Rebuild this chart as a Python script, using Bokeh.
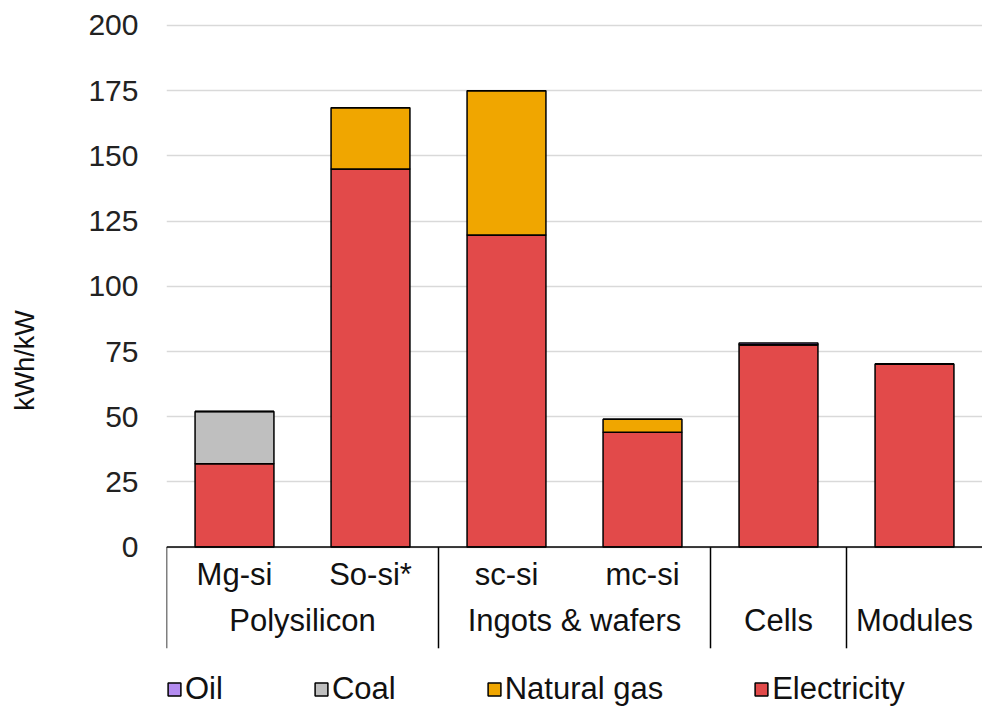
from bokeh.plotting import figure
from bokeh.models import (Range1d, FixedTicker, Legend, LegendItem, LinearAxis,
                          ColumnDataSource)
from bokeh.core.properties import value
from bokeh.embed import file_html
from bokeh.resources import INLINE

# ---- data ----
subcategories = ["Mg-si", "So-si*", "sc-si", "mc-si", "", ""]
groups = ["Polysilicon", "Polysilicon", "Ingots & wafers", "Ingots & wafers",
          "Cells", "Modules"]
electricity = [32, 145, 119.7, 44, 77.6, 70.2]
coal = [20, 0, 0, 0, 0, 0]
natural_gas = [0, 23.5, 55.3, 5, 0, 0]
oil = [0, 0, 0, 0, 0.7, 0]
y_ticks = [0, 25, 50, 75, 100, 125, 150, 175, 200]
y_title = "kWh/kW"

FONT = "Liberation Sans"
series = ["electricity", "coal", "natural_gas", "oil"]
colors = ["#E24A4A", "#BFBFBF", "#F0A600", "#B48CF0"]
labels = {"electricity": "Electricity", "coal": "Coal",
          "natural_gas": "Natural gas", "oil": "Oil"}

n = len(subcategories)
xs = list(range(n))
src = ColumnDataSource(dict(x=xs, electricity=electricity, coal=coal,
                            natural_gas=natural_gas, oil=oil))

p = figure(width=982, height=707, output_backend="svg", toolbar_location=None,
           x_range=Range1d(-0.5, n - 0.5), y_range=Range1d(-61.5, 204.6),
           x_axis_type=None, min_border_left=166, min_border_right=0,
           min_border_top=13, min_border_bottom=0)
p.outline_line_color = None
p.background_fill_color = "white"
p.border_fill_color = "white"

# y axis (tick labels)
yax = p.yaxis[0]
yax.ticker = FixedTicker(ticks=y_ticks)
yax.axis_line_color = None
yax.major_tick_line_color = None
yax.minor_tick_line_color = None
yax.major_tick_out = 0
yax.major_label_standoff = 28
yax.major_label_text_font = FONT
yax.major_label_text_font_size = "30px"
yax.major_label_text_color = "#222222"
p.xgrid.visible = False
p.ygrid.grid_line_color = "#D9D9D9"
p.ygrid.grid_line_width = 1.5

# y-axis title
title_ax = LinearAxis(ticker=FixedTicker(ticks=[]),
                      axis_label=y_title, axis_line_color=None,
                      major_tick_line_color=None, minor_tick_line_color=None,
                      axis_label_standoff=46, axis_label_text_font=FONT,
                      axis_label_text_font_size="27px",
                      axis_label_text_font_style="normal",
                      axis_label_text_color="#111111")
p.add_layout(title_ax, "left")

# stacked bars
rends = p.vbar_stack(series, x="x", width=0.58, source=src, color=colors,
                     line_color="black", line_width=1.5)
rmap = dict(zip(series, rends))

# category axis table
p.segment(x0=[-0.5], y0=[0], x1=[n - 0.5], y1=[0], line_color="black",
          line_width=1.5)
bounds = [-0.5] + [i - 0.5 for i in range(1, n) if groups[i] != groups[i - 1]]
p.segment(x0=bounds, y0=[0] * len(bounds), x1=bounds, y1=[-38.8] * len(bounds),
          line_color="black", line_width=1.5)

sub_x = [x for x, s in zip(xs, subcategories) if s]
sub_t = [s for s in subcategories if s]
p.text(x=sub_x, y=[-10.5] * len(sub_x), text=sub_t, text_font=value(FONT),
       text_font_size="31px", text_align="center", text_baseline="middle",
       text_color="#111111")

gnames, gx = [], []
for g in dict.fromkeys(groups):
    idx = [i for i, gg in enumerate(groups) if gg == g]
    gnames.append(g)
    gx.append(sum(idx) / len(idx))
p.text(x=gx, y=[-28] * len(gx), text=gnames, text_font=value(FONT),
       text_font_size="31px", text_align="center", text_baseline="middle",
       text_color="#111111")

# legend
order = ["oil", "coal", "natural_gas", "electricity"]
legend = Legend(items=[LegendItem(label=labels[s], renderers=[rmap[s]])
                       for s in order],
                location=(0, 0), orientation="horizontal",
                glyph_width=16, glyph_height=16, label_standoff=3,
                spacing=90, padding=0, margin=0,
                label_text_font=FONT, label_text_font_size="31px",
                label_text_color="#111111",
                border_line_color=None, background_fill_alpha=0)
p.add_layout(legend)

open("out.html", "w").write(file_html(p, INLINE))
